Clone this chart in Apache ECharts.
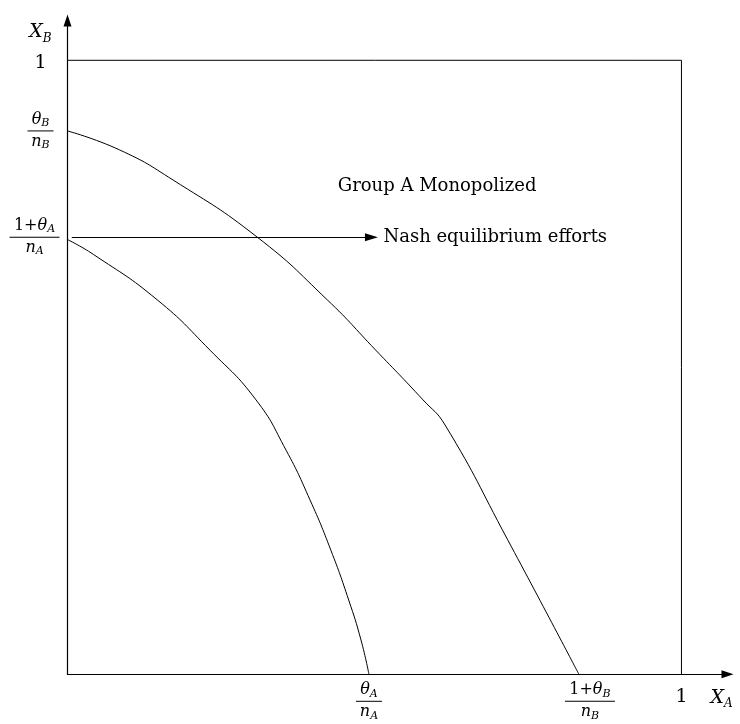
<!DOCTYPE html>
<html><head><meta charset="utf-8">
<script src="https://cdn.jsdelivr.net/npm/echarts@6/dist/echarts.min.js"></script>
<style>html,body{margin:0;padding:0;background:#fff}#c{width:740px;height:724px}</style>
</head><body><div id="c"></div>
<script>
// ---- data ----
const xTickValues = [0.491, 0.833, 1];
const xTickLabels = [
  '{i|θ}{s|A}\n{bar|}\n{i|n}{s|A}',
  '{sp|}{n|1+}{i|θ}{s|B}\n{sp|}{barw|}\n{sp|}{i|n}{s|B}',
  '{one|1}'
];
const yTickValues = [0.712, 0.885, 1];
const yTickLabels = [
  '{n|1+}{i|θ}{s|A}{sp2|}\n{barw|}{sp2|}\n{i|n}{s|A}{sp2|}',
  '{i|θ}{s|B}\n{bar|}\n{i|n}{s|B}',
  '{one|1}'
];
const xAxisName = '{I|X}{S|A}';
const yAxisName = '{I|X}{S|B}';
// lower curve: (X_A, X_B)
const innerCurve = [
  [0, 0.708], [0.042, 0.684], [0.146, 0.610], [0.232, 0.528], [0.307, 0.447],
  [0.356, 0.365], [0.395, 0.284], [0.429, 0.202], [0.458, 0.121], [0.478, 0.056],
  [0.491, 0]
];
// upper curve
const outerCurve = [
  [0, 0.885], [0.085, 0.854], [0.172, 0.805], [0.309, 0.712], [0.423, 0.610],
  [0.502, 0.528], [0.579, 0.447], [0.615, 0.406], [0.717, 0.219], [0.833, 0]
];
const boxCorners = [[0, 1], [1, 1], [1, 0]];
const nashY = 0.712;
const nashStartX = 0.007;
const nashEndX = 0.495;
const nashText = 'Nash equilibrium efforts';
const regionText = 'Group A Monopolized';
const regionPos = [0.602, 0.795];

// ---- styles ----
const serif = 'DejaVu Serif';
const fr = 16, sub = 11;
const fracRich = {
  n: {fontFamily: serif, fontSize: fr, color: '#000', align: 'center', verticalAlign: 'middle', lineHeight: 18},
  i: {fontFamily: serif, fontStyle: 'italic', fontSize: fr, color: '#000', align: 'center', verticalAlign: 'middle', lineHeight: 18},
  s: {fontFamily: serif, fontStyle: 'italic', fontSize: sub, color: '#000', align: 'center', verticalAlign: 'bottom', lineHeight: 18},
  bar: {width: 26, height: 1, lineHeight: 4, backgroundColor: '#000', align: 'center'},
  barw: {width: 50, height: 1, lineHeight: 4, backgroundColor: '#000', align: 'center'},
  sp: {width: 22, height: 1, align: 'center'},
  sp2: {width: 12, height: 1, align: 'center'},
  one: {fontFamily: serif, fontSize: 19, color: '#000', align: 'center', padding: [6, 0, 0, 0]}
};
const nameRich = {
  I: {fontFamily: serif, fontStyle: 'italic', fontSize: 19, color: '#000', verticalAlign: 'middle', lineHeight: 24},
  S: {fontFamily: serif, fontStyle: 'italic', fontSize: 12, color: '#000', verticalAlign: 'bottom', lineHeight: 24}
};
function pick(vals, labels) {
  return function (v) {
    let best = 0;
    for (let k = 1; k < vals.length; k++) if (Math.abs(vals[k] - v) < Math.abs(vals[best] - v)) best = k;
    return labels[best];
  };
}

const chart = echarts.init(document.getElementById('c'), null, {renderer: 'canvas'});
const blackLine = {color: '#000', width: 1};
chart.setOption({
  animation: false,
  backgroundColor: '#fff',
  grid: {left: 67.5, right: 12.5, top: 20.4, bottom: 49.7, containLabel: false},
  xAxis: {
    type: 'value', min: 0, max: 1.075,
    name: xAxisName, nameLocation: 'end', nameGap: -6,
    nameTextStyle: {rich: nameRich, align: 'center', verticalAlign: 'top', padding: [12, 0, 0, 0]},
    axisLine: {show: true, lineStyle: {color: '#000', width: 1.2}, symbol: ['none', 'triangle'], symbolSize: [8, 12]},
    axisTick: {show: false},
    splitLine: {show: false},
    axisLabel: {
      customValues: xTickValues, margin: 7, verticalAlign: 'top', align: 'center',
      formatter: pick(xTickValues, xTickLabels), rich: fracRich
    }
  },
  yAxis: {
    type: 'value', min: 0, max: 1.065,
    name: yAxisName, nameLocation: 'end', nameGap: -12,
    nameTextStyle: {rich: nameRich, align: 'right', verticalAlign: 'middle', padding: [0, 16, 0, 0]},
    axisLine: {show: true, lineStyle: {color: '#000', width: 1.2}, symbol: ['none', 'triangle'], symbolSize: [8, 12]},
    axisTick: {show: false},
    splitLine: {show: false},
    axisLabel: {
      customValues: yTickValues, margin: 27, align: 'center', verticalAlign: 'middle',
      formatter: pick(yTickValues, yTickLabels), rich: fracRich
    }
  },
  series: [
    {type: 'line', data: outerCurve, showSymbol: false, smooth: 0.5, lineStyle: blackLine, silent: true, z: 3},
    {type: 'line', data: innerCurve, showSymbol: false, smooth: 0.5, lineStyle: blackLine, silent: true, z: 3},
    {
      type: 'line', data: boxCorners, showSymbol: false, lineStyle: blackLine, silent: true,
      markLine: {
        silent: true, animation: false,
        symbol: ['none', 'triangle'], symbolSize: [8, 13],
        lineStyle: {color: '#000', width: 1, type: 'solid'},
        label: {show: true, position: 'end', distance: 12, formatter: nashText, color: '#000', fontFamily: serif, fontSize: 18},
        data: [[{coord: [nashStartX, nashY]}, {coord: [nashEndX, nashY]}]]
      }
    },
    {
      type: 'scatter', data: [regionPos], symbolSize: 0, silent: true, itemStyle: {opacity: 1},
      label: {show: true, position: 'inside', formatter: regionText, color: '#000', fontFamily: serif, fontSize: 18}
    }
  ]
});
</script></body></html>
